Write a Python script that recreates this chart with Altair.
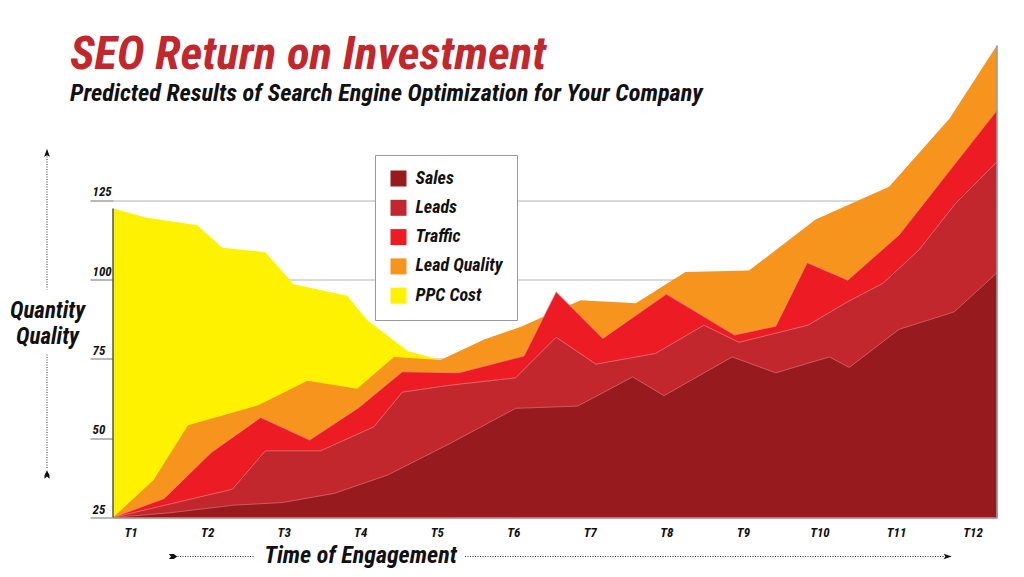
import altair as alt
import pandas as pd

# ---------------- data ----------------
series = ["Sales", "Leads", "Traffic", "Lead Quality", "PPC Cost"]
colors = ["#971b1e", "#c1272d", "#ed1c24", "#f7941d", "#fff200"]
x_tick_values = [1, 2, 3, 4, 5, 6, 7, 8, 9, 10, 11, 12]
x_tick_labels = ["T1", "T2", "T3", "T4", "T5", "T6", "T7", "T8", "T9", "T10", "T11", "T12"]
y_tick_values = [25, 50, 75, 100, 125]

ppc_t = [0.77, 1.20, 1.87, 2.20, 2.76, 3.13, 3.83, 4.09, 4.62, 5.05]
ppc_v = [122.4, 119.5, 117.1, 110.0, 108.6, 98.5, 94.9, 87.2, 77.5, 74.6]

lq_t = [0.77, 1.30, 1.75, 2.66, 3.31, 3.96, 4.44, 5.05, 5.62, 6.10, 6.88, 7.60, 8.25, 9.08, 9.95, 10.91, 11.70, 12.32]
lq_v = [25.0, 36.8, 54.1, 60.3, 68.1, 65.6, 75.6, 74.6, 81.1, 85.1, 93.5, 92.5, 102.4, 102.8, 118.9, 129.2, 150.7, 173.8]

traffic_t = [0.77, 1.44, 2.05, 2.70, 3.34, 3.98, 4.55, 5.29, 6.14, 6.56, 7.17, 8.00, 8.89, 9.43, 9.84, 10.37, 11.04, 12.32]
traffic_v = [25.0, 31.0, 45.4, 56.5, 49.4, 59.6, 70.9, 70.6, 75.9, 96.1, 81.4, 95.4, 82.5, 85.3, 105.3, 99.8, 114.0, 153.3]

leads_t = [0.77, 2.33, 2.76, 3.48, 4.18, 4.55, 5.18, 6.03, 6.56, 7.08, 7.86, 8.49, 8.95, 9.85, 10.37, 10.83, 11.30, 11.78, 12.32]
leads_v = [25.0, 33.9, 46.0, 46.0, 53.6, 64.5, 66.7, 69.0, 81.8, 73.3, 76.7, 85.6, 80.2, 85.6, 93.0, 98.8, 109.3, 124.0, 137.1]

sales_t = [0.77, 1.52, 2.35, 2.98, 3.66, 4.36, 5.18, 6.03, 6.84, 7.56, 7.97, 8.86, 9.43, 10.13, 10.39, 11.04, 11.76, 12.32]
sales_v = [25.0, 26.5, 28.9, 29.7, 32.6, 38.4, 48.4, 59.4, 60.1, 69.3, 63.4, 75.6, 70.6, 75.6, 72.3, 84.3, 89.8, 102.1]

BASE = 25


def frame(name, ts, vs):
    return pd.DataFrame({"series": name, "t": ts, "v": vs})


FONT = "'Roboto Condensed', 'DejaVu Sans Condensed', 'Liberation Sans Narrow', Roboto, sans-serif"

label_expr = "[" + ",".join("'%s'" % s for s in x_tick_labels) + "][datum.value - 1]"

x_enc = alt.X(
    "t:Q",
    scale=alt.Scale(domain=[ppc_t[0], lq_t[-1]], nice=False, zero=False),
    axis=alt.Axis(
        values=x_tick_values, labelExpr=label_expr, grid=False, ticks=False,
        domain=True, domainColor="#9a9a9a", domainWidth=1.5,
        labelFont=FONT, labelFontSize=13, labelFontStyle="italic", labelFontWeight="bold",
        labelColor="#111", labelPadding=9,
        title="Time of Engagement", titleFont=FONT, titleFontSize=24, titleFontStyle="italic",
        titleFontWeight="bold", titleColor="#111", titleX=247, titleY=45, titleAlign="center",
        titleBaseline="alphabetic",
    ),
)
y_enc = alt.Y(
    "v:Q",
    scale=alt.Scale(domain=[25, 175], nice=False, zero=False),
    axis=alt.Axis(
        values=y_tick_values, grid=True, gridColor="#cccccc", gridWidth=1.5,
        ticks=True, tickSize=23, tickColor="#a0a0a0", tickWidth=1.5, domain=False,
        labelFont=FONT, labelFontSize=13, labelFontStyle="italic", labelFontWeight="bold",
        labelColor="#111", labelAlign="left", labelBaseline="bottom", labelPadding=-2, labelOffset=-1.5,
        title=["Quantity", "Quality"], titleAngle=0, titleAlign="center", titleBaseline="alphabetic",
        titleX=-66, titleY=276, titleFont=FONT, titleFontSize=23, titleFontStyle="italic",
        titleFontWeight="bold", titleColor="#111", titleLineHeight=26,
    ),
)
color_enc = alt.Color(
    "series:N",
    sort=series,
    scale=alt.Scale(domain=series, range=colors),
    legend=alt.Legend(
        title=None, orient="none", legendX=262, legendY=113.5,
        symbolType="square", symbolSize=256, symbolStrokeWidth=0, symbolOpacity=1,
        labelFont=FONT, labelFontSize=18, labelFontStyle="italic", labelFontWeight="bold",
        labelColor="#111", labelOffset=8, rowPadding=11.3, padding=14.5,
        strokeColor="#999999", fillColor="white",
    ),
)


def area(df, stroke=None):
    kw = {}
    if stroke:
        kw = dict(stroke=stroke, strokeWidth=0.8, strokeOpacity=0.85)
    return alt.Chart(df).mark_area(opacity=1, **kw).encode(
        x=x_enc, y=y_enc, y2=alt.datum(BASE), color=color_enc
    )


layers = [
    area(frame("PPC Cost", ppc_t, ppc_v)),
    area(frame("Lead Quality", lq_t, lq_v)),
    area(frame("Traffic", traffic_t, traffic_v), stroke="#f08a8a"),
    area(frame("Leads", leads_t, leads_v), stroke="#e88a8a"),
    area(frame("Sales", sales_t, sales_v), stroke="#d87878"),
]

edges = pd.DataFrame({"t": [ppc_t[0], lq_t[-1]], "v": [ppc_v[0], lq_v[-1]], "c": ["#555555", "#999999"]})
edge_rules = alt.Chart(edges).mark_rule(strokeWidth=1.5).encode(
    x="t:Q", y="v:Q", y2=alt.datum(BASE), color=alt.Color("c:N", scale=None, legend=None)
)
layers.append(edge_rules)

# ---------------- decorative dotted arrows ----------------
one = alt.Data(values=[{}])
DOT = dict(strokeDash=[1, 1.5], strokeWidth=1, color="#333")


def hrule(x1, x2, y):
    return alt.Chart(one).mark_rule(**DOT).encode(x=alt.value(x1), x2=alt.value(x2), y=alt.value(y))


def vrule(x, y1, y2):
    return alt.Chart(one).mark_rule(**DOT).encode(x=alt.value(x), y=alt.value(y1), y2=alt.value(y2))


def glyph(x, y, path, size):
    return alt.Chart(one).mark_point(shape=path, filled=True, size=size, color="#111", opacity=1).encode(
        x=alt.value(x), y=alt.value(y)
    )


HEAD_UP = "M0,-1 L0.6,0.7 L0,0.35 L-0.6,0.7 Z"
HEAD_RIGHT = "M1,0 L-0.7,0.6 L-0.35,0 L-0.7,-0.6 Z"
TAIL_UP = "M0,-1 L0.6,0.2 L0.6,1 L0,0.45 L-0.6,1 L-0.6,0.2 Z"
TAIL_RIGHT = "M1,0 L0.2,0.6 L-1,0.6 L-0.45,0 L-1,-0.6 L0.2,-0.6 Z"

layers += [
    vrule(-66, 110, 248),
    glyph(-66, 112, HEAD_UP, 90),
    vrule(-66, 313, 428),
    glyph(-66, 433, TAIL_UP, 70),
    hrule(62, 142, 515),
    glyph(60, 515, TAIL_RIGHT, 70),
    hrule(352, 832, 515),
    glyph(834, 515, HEAD_RIGHT, 90),
]

chart = (
    alt.layer(*layers)
    .properties(
        width=884,
        height=476,
        autosize=alt.AutoSizeParams(type="none"),
        padding={"left": 113, "top": 41.5, "right": 27, "bottom": 59.5},
        background="white",
        title=alt.TitleParams(
            text="SEO Return on Investment",
            subtitle="Predicted Results of Search Engine Optimization for Your Company",
            anchor="start", frame="group", dx=-43, dy=66, offset=0,
            font=FONT, fontSize=47, fontStyle="italic", fontWeight="bold", color="#c1272d",
            subtitleFont=FONT, subtitleFontSize=24.3, subtitleFontStyle="italic",
            subtitleFontWeight="bold", subtitleColor="#111", subtitlePadding=3,
        ),
    )
    .configure_view(strokeWidth=0)
)

chart.save("out.html", embed_options={"renderer": "svg", "actions": False})
